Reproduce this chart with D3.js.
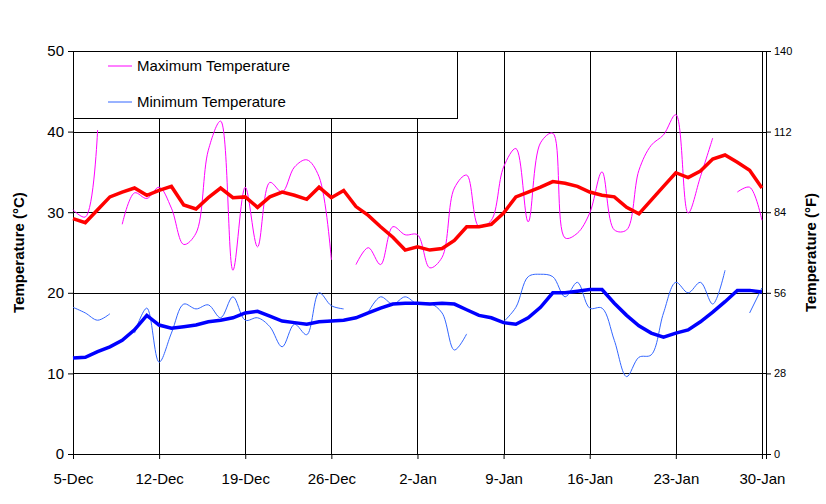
<!DOCTYPE html>
<html>
<head>
<meta charset="utf-8">
<script src="https://cdn.jsdelivr.net/npm/d3@7"></script>
<style>
body { margin: 0; background: #fff; }
text { font-family: "Liberation Sans", Arial, sans-serif; }
</style>
</head>
<body>
<div id="chart"></div>
<script>
// day 0 = 5-Dec, day 56 = 30-Jan
var tickLabels = ["5-Dec", "12-Dec", "19-Dec", "26-Dec", "2-Jan", "9-Jan", "16-Jan", "23-Jan", "30-Jan"];

var maxTemp = [30.3, 29.4, 40.2, null, 28.5, 32.4, 31.7, 33.1, 30.5, 26.0, 27.4, 37.7, 41.3, 22.8, 33.1,
  25.7, 33.7, 32.5, 35.6, 36.5, 34.4, 24.1, null, 23.5, 25.6, 23.5, 28.2, 27.2, 27.2, 23.1,
  24.4, 33.0, 34.6, 28.2, 29.0, 35.6, 37.9, 28.8, 38.6, 39.8, 26.8, 27.4, 29.9, 35.0, 27.8,
  27.8, 35.2, 38.3, 39.6, 42.1, 29.9, 34.4, 39.2, null, 32.5, 33.1, 29.0];

var minTemp = [18.2, 17.5, 16.6, 17.4, null, 15.0, 18.1, 11.4, 15.0, 18.6, 18.0, 18.5, 16.9, 19.5, 16.6,
  16.9, 15.8, 13.3, 16.1, 14.8, 20.0, 18.4, 18.0, null, 17.6, 19.5, 18.6, 19.5, 18.6, 18.7,
  17.5, 12.9, 14.9, null, null, 16.4, 18.2, 22.0, 22.3, 22.0, 19.5, 21.3, 18.1, 18.1, 14.1,
  9.6, 12.0, 12.3, 17.5, 21.3, 20.0, 21.3, 18.6, 22.8, null, 17.5, 20.6];

var avgMax = [29.2, 28.7, 30.3, 31.9, 32.5, 33.0, 32.1, 32.7, 33.2, 30.9, 30.4, 31.8, 33.0, 31.8, 31.9,
  30.6, 31.9, 32.5, 32.1, 31.6, 33.1, 31.8, 32.7, 30.7, 29.6, 28.2, 26.9, 25.3, 25.7, 25.3,
  25.5, 26.5, 28.2, 28.2, 28.5, 29.9, 31.9, 32.5, 33.1, 33.8, 33.6, 33.2, 32.5, 32.1, 31.9,
  30.6, 29.8, 31.5, 33.2, 34.9, 34.3, 35.1, 36.6, 37.1, 36.2, 35.2, 33.0];

var avgMin = [11.9, 12.0, 12.7, 13.3, 14.1, 15.4, 17.2, 16.0, 15.6, 15.8, 16.0, 16.4, 16.6, 16.9, 17.5,
  17.7, 17.1, 16.5, 16.3, 16.1, 16.4, 16.5, 16.6, 16.9, 17.5, 18.1, 18.6, 18.7, 18.7, 18.6,
  18.7, 18.6, 17.9, 17.2, 16.9, 16.3, 16.1, 16.9, 18.2, 20.0, 20.0, 20.2, 20.4, 20.4, 18.7,
  17.2, 15.9, 15.0, 14.5, 15.0, 15.4, 16.4, 17.6, 18.9, 20.3, 20.3, 20.1];

(function() {
var W = 826, H = 504;
var pLeft = 73, pRight = 766, pTop = 51, pBottom = 454;

var svg = d3.select("#chart").append("svg")
    .attr("width", W).attr("height", H);

var x = d3.scaleLinear().domain([0, 56.33]).range([pLeft, pRight]);
var y = d3.scaleLinear().domain([0, 50]).range([pBottom, pTop]);
var yF = d3.scaleLinear().domain([0, 140]).range([pBottom, pTop]);

// grid
svg.append("g").selectAll("line").data(d3.range(0, 51, 10)).enter()
  .append("line")
    .attr("x1", pLeft).attr("x2", pRight)
    .attr("y1", d => Math.round(y(d)) + 0.5).attr("y2", d => Math.round(y(d)) + 0.5)
    .attr("stroke", "#000").attr("stroke-width", 1);

svg.append("g").selectAll("line").data(d3.range(7, 57, 7)).enter()
  .append("line")
    .attr("x1", d => Math.round(x(d)) + 0.5).attr("x2", d => Math.round(x(d)) + 0.5)
    .attr("y1", pTop).attr("y2", pBottom)
    .attr("stroke", "#000").attr("stroke-width", 1);

// axes
var gx = svg.append("g").attr("transform", `translate(0,${pBottom})`)
    .call(d3.axisBottom(x).tickValues(d3.range(0, 57, 7))
      .tickFormat((d, i) => tickLabels[i]).tickSize(5).tickPadding(14));
var gyl = svg.append("g").attr("transform", `translate(${pLeft},0)`)
    .call(d3.axisLeft(y).tickValues(d3.range(0, 51, 10)).tickSize(5).tickPadding(4));
var gyr = svg.append("g").attr("transform", `translate(${pRight},0)`)
    .call(d3.axisRight(yF).tickValues(d3.range(0, 141, 28)).tickSize(5).tickPadding(3));

[gx, gyl, gyr].forEach(function(g) {
  g.select(".domain").attr("stroke", "#000");
  g.selectAll(".tick line").attr("stroke", "#000");
  g.selectAll(".tick text").attr("fill", "#000")
    .attr("font-family", "Liberation Sans, Arial, sans-serif").attr("font-size", 15);
});
gyr.selectAll(".tick text").attr("font-size", 11);

// lines
var smooth = d3.line().defined(d => d != null)
    .x((d, i) => x(i)).y(d => y(d)).curve(d3.curveCatmullRom.alpha(0.5));
var straight = d3.line().x((d, i) => x(i)).y(d => y(d));

svg.append("path").attr("d", smooth(maxTemp)).attr("fill", "none")
    .attr("stroke", "#ff00ff").attr("stroke-width", 1);
svg.append("path").attr("d", smooth(minTemp)).attr("fill", "none")
    .attr("stroke", "#3366ff").attr("stroke-width", 1);
svg.append("path").attr("d", straight(avgMax)).attr("fill", "none")
    .attr("stroke", "#ff0000").attr("stroke-width", 3.5);
svg.append("path").attr("d", straight(avgMin)).attr("fill", "none")
    .attr("stroke", "#0000ff").attr("stroke-width", 3.5);

// legend
var lg = svg.append("g");
lg.append("rect").attr("x", 73.5).attr("y", 51.5).attr("width", 384).attr("height", 67)
    .attr("fill", "#fff").attr("stroke", "#000");
[["Maximum Temperature", "#ff00ff", 66], ["Minimum Temperature", "#3366ff", 102]].forEach(function(l) {
  lg.append("line").attr("x1", 108).attr("x2", 132).attr("y1", l[2]).attr("y2", l[2])
      .attr("stroke", l[1]).attr("stroke-width", 1);
  lg.append("text").attr("x", 137).attr("y", l[2] + 5).attr("font-size", 15).text(l[0]);
});

// axis titles
svg.append("text").attr("transform", `translate(24,${(pTop + pBottom) / 2})rotate(-90)`)
    .attr("text-anchor", "middle").attr("font-size", 15).attr("font-weight", "bold")
    .text("Temperature (°C)");
svg.append("text").attr("transform", `translate(816,${(pTop + pBottom) / 2})rotate(-90)`)
    .attr("text-anchor", "middle").attr("font-size", 15).attr("font-weight", "bold")
    .text("Temperature (°F)");
})();
</script>
</body>
</html>
